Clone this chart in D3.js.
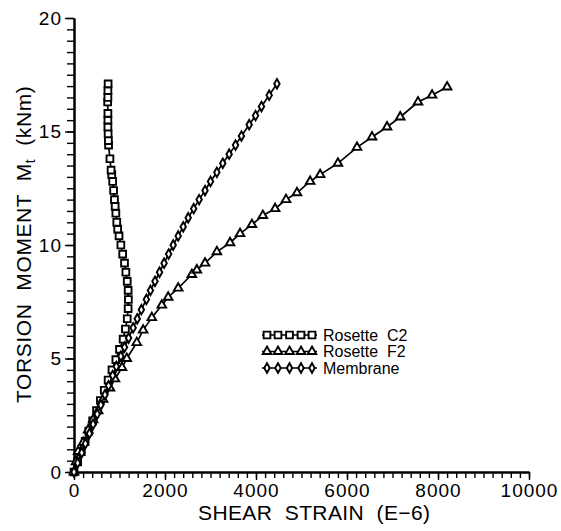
<!DOCTYPE html>
<html>
<head>
<meta charset="utf-8">
<script src="https://cdn.jsdelivr.net/npm/d3@7"></script>
<style>
  body { margin: 0; background: #fff; }
  text { font-family: "Liberation Sans", Arial, sans-serif; fill: #000; }
  .axis path { stroke: #000; stroke-width: 2; }
  .axis line { stroke: #000; stroke-width: 1.4; }
  .axis text { font-size: 19px; letter-spacing: 1px; }
</style>
</head>
<body>
<div id="chart"></div>
<script>
// torsion moment vs shear strain, three gauges

var widthT = 561, heightT = 531;

var margin = {top: 18, right: 32, bottom: 59, left: 74},
    width = widthT - margin.left - margin.right,
    height = heightT - margin.top - margin.bottom;

// Rosette C2 (squares)
var c2Strain = [0, 80, 160, 245, 325, 410, 495, 580, 665, 750, 835, 920, 1000, 1080, 1130, 1170, 1190, 1195, 1190, 1170,
                1140, 1110, 1070, 1030, 990, 960, 940, 920, 905, 890, 870, 850, 830, 815, 790, 760, 755, 750, 745, 745,
                745, 740, 745, 745, 750];
var c2Moment = [0, 0.45, 0.9, 1.35, 1.8, 2.25, 2.7, 3.15, 3.6, 4.05, 4.5, 4.95, 5.4, 5.85, 6.3, 6.75, 7.2, 7.6, 8.0, 8.4,
                8.8, 9.2, 9.6, 10.0, 10.4, 10.7, 11.0, 11.4, 11.7, 12.0, 12.4, 12.8, 13.1, 13.3, 13.8, 14.4, 14.6, 14.9, 15.2, 15.5,
                15.8, 16.3, 16.5, 16.8, 17.1];

// Rosette F2 (triangles)
var f2Strain = [0, 45, 90, 200, 310, 420, 530, 640, 790, 900, 1055, 1160, 1380, 1520, 1710, 1930, 2070, 2290, 2590, 2700,
                2880, 3140, 3430, 3650, 3910, 4150, 4420, 4660, 4900, 5190, 5410, 5800, 6220, 6550, 6880, 7170, 7560, 7870, 8200];
var f2Moment = [0, 0.45, 0.9, 1.3, 1.85, 2.3, 2.7, 3.2, 3.7, 4.1, 4.6, 5.0, 5.7, 6.25, 6.8, 7.35, 7.7, 8.1, 8.7, 8.9,
                9.2, 9.7, 10.1, 10.5, 10.9, 11.3, 11.6, 12.0, 12.3, 12.8, 13.1, 13.6, 14.3, 14.76, 15.2, 15.64, 16.3, 16.6, 16.96];

// Membrane (diamonds)
var memStrain = [0, 80, 170, 250, 340, 420, 510, 590, 680, 760, 850, 930, 1030, 1110, 1200, 1300, 1390, 1480, 1590, 1680,
                 1780, 1880, 1980, 2080, 2180, 2290, 2400, 2510, 2630, 2750, 2880, 3000, 3140, 3270, 3410, 3550, 3680, 3850, 3990, 4120,
                 4290, 4460];
var memMoment = [0, 0.4, 0.85, 1.25, 1.7, 2.1, 2.55, 2.95, 3.4, 3.8, 4.25, 4.65, 5.1, 5.5, 5.9, 6.35, 6.75, 7.15, 7.6, 8.0,
                 8.4, 8.8, 9.2, 9.6, 10.0, 10.4, 10.8, 11.2, 11.6, 12.0, 12.4, 12.8, 13.2, 13.6, 14.0, 14.4, 14.8, 15.3, 15.7, 16.1,
                 16.6, 17.1];

var xTicks = [0, 2000, 4000, 6000, 8000, 10000],
    yTicks = [0, 5, 10, 15, 20];

var seriesNames = ["Rosette  C2", "Rosette  F2", "Membrane"];

function zipPts(xs, ys) {
  return xs.map(function(v, i) { return {x: v, y: ys[i]}; });
}

var series = [
  {name: seriesNames[0], pts: zipPts(c2Strain, c2Moment), sym: d3.symbol().type(d3.symbolSquare).size(46)},
  {name: seriesNames[1], pts: zipPts(f2Strain, f2Moment), sym: d3.symbol().type(d3.symbolTriangle).size(32)},
  {name: seriesNames[2], pts: zipPts(memStrain, memMoment), sym: d3.symbol().type(d3.symbolDiamond).size(26)}
];

var svg = d3.select("#chart")
    .append("svg")
    .attr("width", widthT)
    .attr("height", heightT);

var x = d3.scaleLinear().domain([0, 10000]).range([0, width]),
    y = d3.scaleLinear().domain([0, 20]).range([height, 0]);

var g = svg.append("g")
    .attr("transform", "translate(" + margin.left + "," + margin.top + ")");

// minor ticks first
g.append("g")
    .attr("class", "axis")
    .attr("transform", "translate(0," + height + ")")
    .call(d3.axisBottom(x).tickValues(d3.range(0, 10001, 200)).tickSize(6).tickSizeOuter(0).tickFormat(""));

g.append("g")
    .attr("class", "axis")
    .call(d3.axisLeft(y).tickValues(d3.range(0, 20.01, 0.5)).tickSize(7).tickSizeOuter(0).tickFormat(""));

var xAxis = g.append("g")
    .attr("class", "axis")
    .attr("transform", "translate(0," + height + ")")
    .call(d3.axisBottom(x).tickValues(xTicks).tickSize(8).tickSizeOuter(0).tickPadding(6).tickFormat(d3.format("d")));
xAxis.selectAll("text").attr("dy", "0.71em").attr("y", 12);

var yAxis = g.append("g")
    .attr("class", "axis")
    .call(d3.axisLeft(y).tickValues(yTicks).tickSize(9).tickSizeOuter(0).tickPadding(3).tickFormat(d3.format("d")));

// curves
var line = d3.line()
    .x(function(d) { return x(d.x); })
    .y(function(d) { return y(d.y); });

series.forEach(function(s) {
  g.append("path")
    .datum(s.pts)
    .attr("fill", "none")
    .attr("stroke", "#000")
    .attr("stroke-width", 1.7)
    .attr("d", line);

  g.selectAll(null)
    .data(s.pts)
    .enter().append("path")
    .attr("transform", function(d) { return "translate(" + x(d.x) + "," + y(d.y) + ")"; })
    .attr("d", s.sym)
    .attr("fill", "#fff")
    .attr("stroke", "#000")
    .attr("stroke-width", 1.9);
});

// legend
var legend = svg.append("g")
    .attr("transform", "translate(262,335)");

series.forEach(function(s, i) {
  var row = legend.append("g").attr("transform", "translate(0," + (i * 16.5) + ")");
  row.append("line")
    .attr("x1", 0).attr("x2", 55)
    .attr("stroke", "#000").attr("stroke-width", 1.7);
  row.selectAll(null)
    .data([5, 16, 27.5, 39, 50])
    .enter().append("path")
    .attr("transform", function(d) { return "translate(" + d + ",0)"; })
    .attr("d", s.sym)
    .attr("fill", "#fff")
    .attr("stroke", "#000")
    .attr("stroke-width", 1.9);
  row.append("text")
    .attr("x", 61)
    .attr("dy", "0.35em")
    .style("font-size", "16px")
    .style("white-space", "pre")
    .text(s.name);
});

// axis titles
svg.append("text")
    .attr("x", 198)
    .attr("y", 520)
    .attr("textLength", 232)
    .attr("lengthAdjust", "spacing")
    .style("font-size", "21px")
    .style("white-space", "pre")
    .text("SHEAR  STRAIN  (E\u22126)");

var yTitle = svg.append("text")
    .attr("transform", "translate(31,403) rotate(-90)")
    .style("font-size", "21px")
    .style("letter-spacing", "0.6px")
    .style("white-space", "pre");
yTitle.append("tspan").text("TORSION  MOMENT  M");
yTitle.append("tspan").attr("dy", 4).style("font-size", "14px").text("t");
yTitle.append("tspan").attr("dy", -4).text("  (kNm)");
</script>
</body>
</html>
